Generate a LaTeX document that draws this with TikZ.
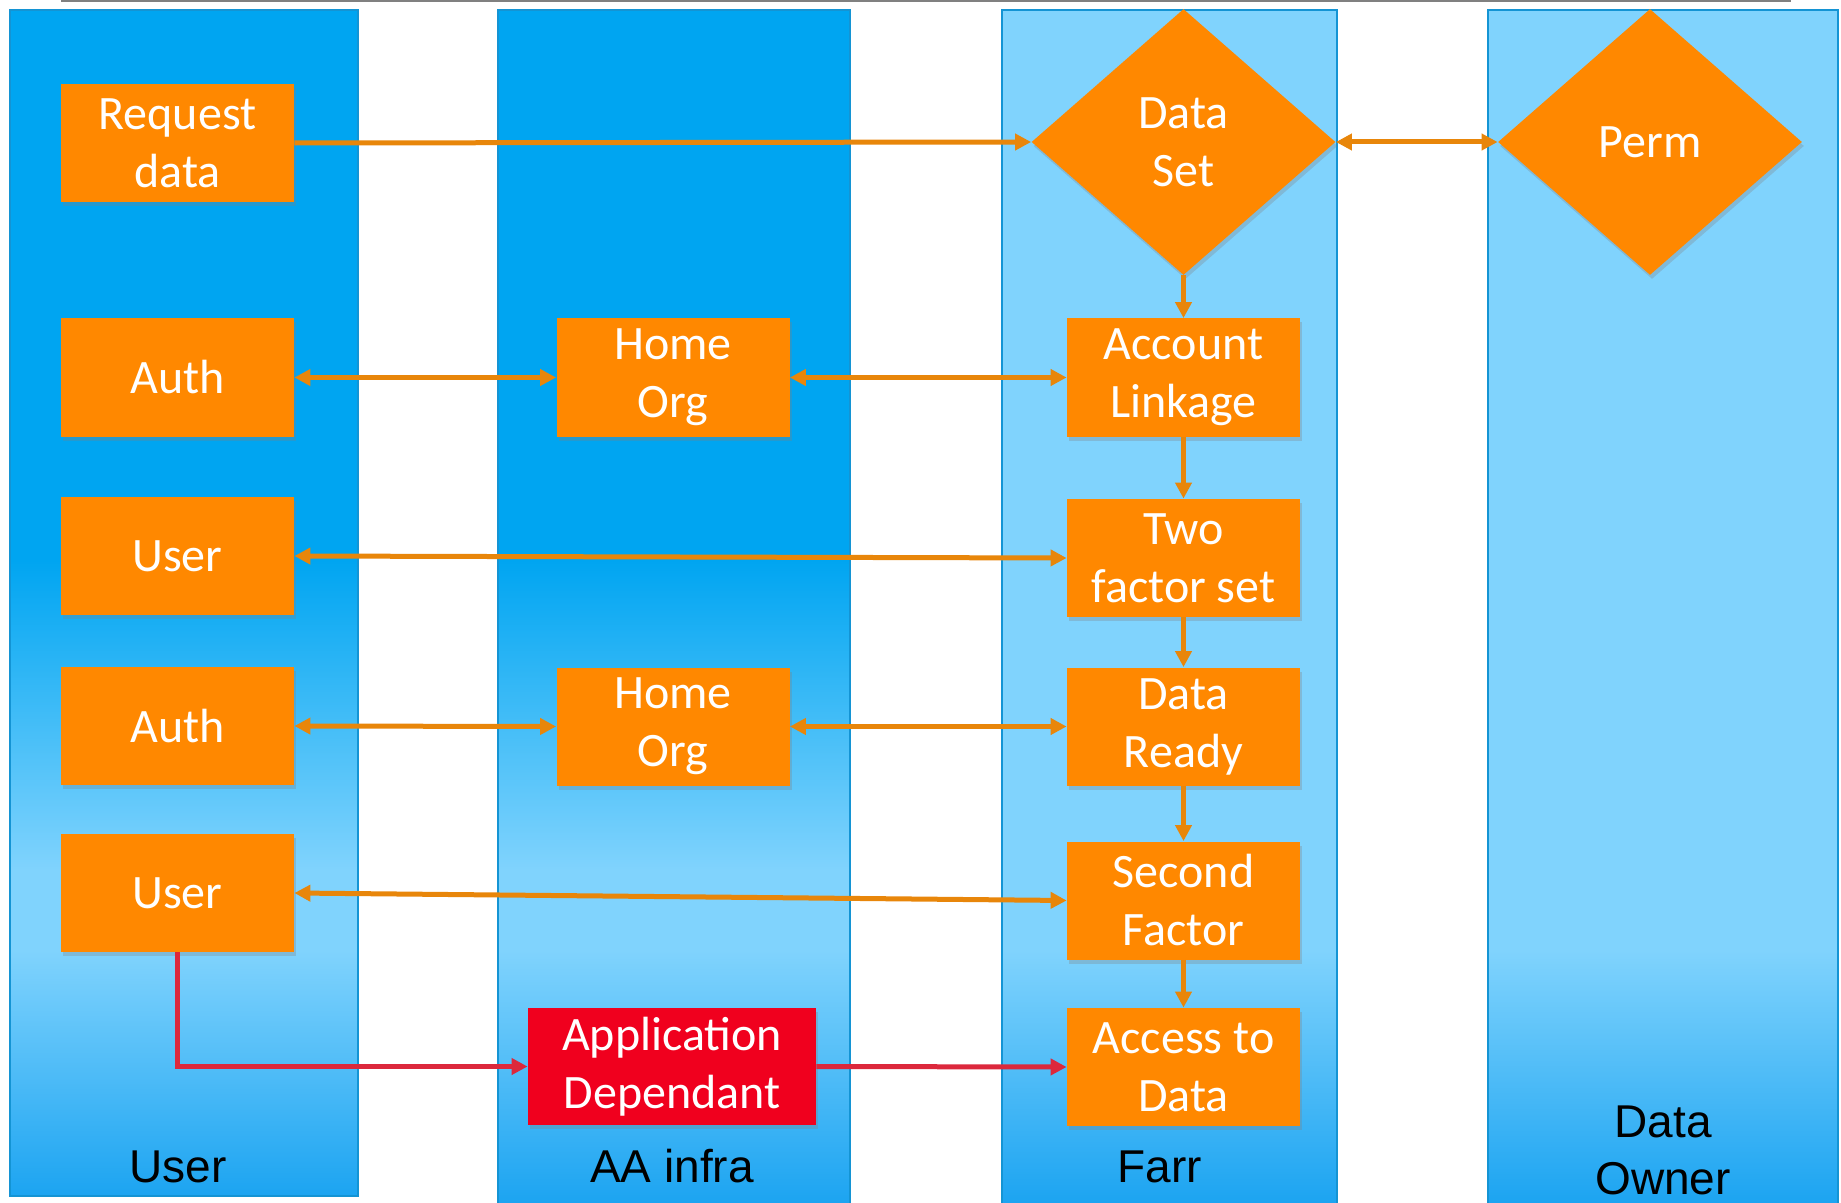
\documentclass[tikz,border=0pt]{standalone}
\usepackage{fontspec}
\setmainfont{Carlito}
\newfontfamily\lanefont{Liberation Sans}
\usetikzlibrary{shapes.geometric, arrows.meta, shadows}

\definecolor{laneblue}{RGB}{0,165,241}
\definecolor{lanelight}{RGB}{128,211,253}
\definecolor{lanedeep}{RGB}{28,164,241}
\definecolor{laneedge}{RGB}{20,148,212}
\definecolor{boxorange}{RGB}{255,136,0}
\definecolor{lineorange}{RGB}{232,134,10}
\definecolor{boxred}{RGB}{240,0,30}
\definecolor{linered}{RGB}{220,40,60}

\begin{document}
\begin{tikzpicture}[x=0.5pt, y=-0.5pt,
  stepbox/.style={rectangle, fill=boxorange, text=white, inner sep=0pt,
    minimum width=116.5pt, minimum height=59pt, align=center,
    font=\fontsize{24}{29}\selectfont,
    drop shadow={shadow xshift=1pt, shadow yshift=-2pt, opacity=0.3}},
  choice/.style={stepbox, diamond, minimum width=152pt, minimum height=133pt},
  appbox/.style={stepbox, fill=boxred, minimum width=144pt, minimum height=58.5pt},
  flow/.style={lineorange, line width=2.5pt, >={Triangle[length=8pt, width=8pt]}, ->},
  both/.style={flow, <->},
  redflow/.style={flow, linered},
  lanelabel/.style={font=\lanefont\fontsize{23}{28.5}\selectfont, align=center}]

  \useasboundingbox (0,0) rectangle (1841,1203);

  % Lanes
  \foreach \xa/\xb/\yb in {10/358/1196, 498/850/1203, 1002/1337/1203, 1488/1838/1203} {
    \fill[lanelight] (\xa,10) rectangle (\xb,950);
    \shade[top color=lanelight, bottom color=lanedeep] (\xa,950) rectangle (\xb,\yb);
  }
  \foreach \xa/\xb in {10/358, 498/850} {
    \fill[laneblue] (\xa,10) rectangle (\xb,560);
    \shade[top color=laneblue, bottom color=lanelight] (\xa,560) rectangle (\xb,870);
  }
  \foreach \xa/\xb/\yb in {10/358/1196, 498/850/1210, 1002/1337/1210, 1488/1838/1210}
    \draw[laneedge, line width=1pt] (\xa,10) rectangle (\xb,\yb);

  % Rule at the top
  \draw[gray, line width=1.5pt] (61,1) -- (1791,1);

  % Lane names
  \node[lanelabel, anchor=base] (userlane) at (178,1182) {User};
  \node[lanelabel, anchor=base] (aalane) at (672,1182) {AA infra};
  \node[lanelabel, anchor=base] (farrlane) at (1160,1182) {Farr};
  \node[lanelabel] (ownerlane) at (1663,1150) {Data\\Owner};

  % User steps
  \node[stepbox] (req) at (177.5,143) {Request\\data};
  \node[stepbox] (auth1) at (177.5,377.5) {Auth};
  \node[stepbox] (user1) at (177.5,556) {User};
  \node[stepbox] (auth2) at (177.5,726) {Auth};
  \node[stepbox] (user2) at (177.5,893) {User};

  % AA infra steps
  \node[stepbox] (home1) at (673,377.5) {Home\\Org};
  \node[stepbox] (home2) at (673,726.5) {Home\\Org};
  \node[appbox] (app) at (672,1066.5) {Application\\Dependant};

  % Farr steps
  \node[choice] (dset) at (1183.5,142) {Data\\Set};
  \node[stepbox] (link) at (1183.5,377.5) {Account\\Linkage};
  \node[stepbox] (twofac) at (1183.5,558) {Two\\factor set};
  \node[stepbox] (ready) at (1183.5,726.5) {Data\\Ready};
  \node[stepbox] (second) at (1183.5,900.5) {Second\\Factor};
  \node[stepbox] (access) at (1183.5,1067) {Access to\\Data};

  % Data owner
  \node[choice] (perm) at (1650,142) {Perm};

  % Connectors
  \draw[flow] (req.east) -- (dset.west);
  \draw[both] (dset.east) -- (perm.west);
  \foreach \a/\b in {dset/link, link/twofac, twofac/ready, ready/second, second/access}
    \draw[flow] (\a.south) -- (\b.north);
  \draw[both] (auth1.east) -- (home1.west);
  \draw[both] (home1.east) -- (link.west);
  \draw[both] (user1.east) -- (twofac.west);
  \draw[both] (auth2.east) -- (home2.west);
  \draw[both] (home2.east) -- (ready.west);
  \draw[both] (user2.east) -- (second.west);
  \draw[redflow] (user2.south) |- (app.west);
  \draw[redflow] (app.east) -- (access.west);

\end{tikzpicture}
\end{document}
